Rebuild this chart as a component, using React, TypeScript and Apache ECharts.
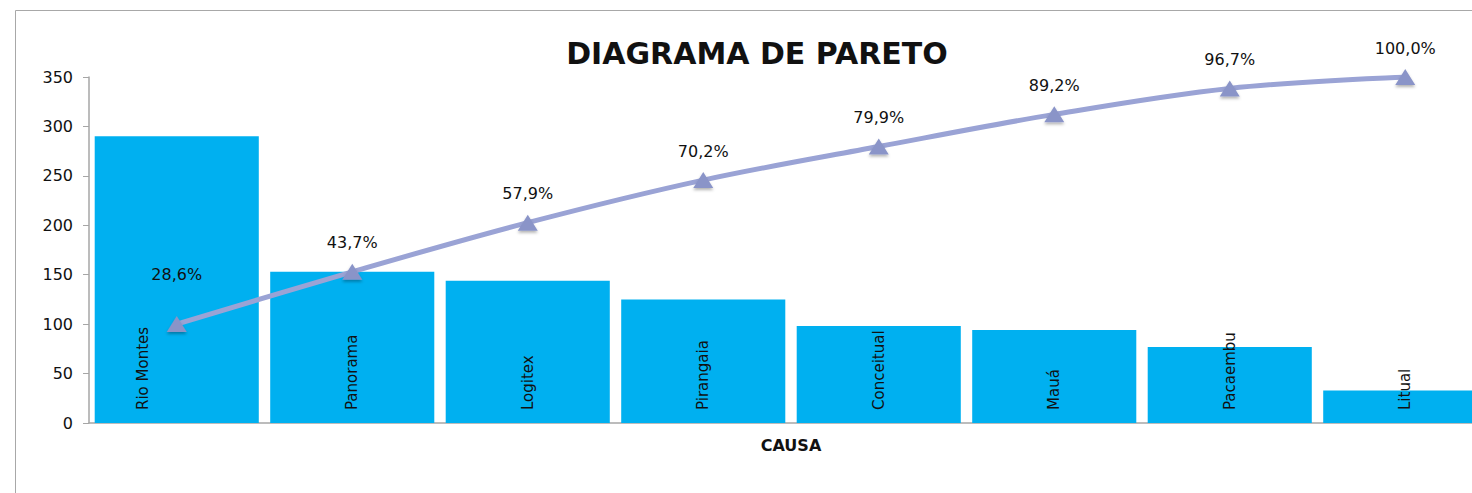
import React, { useEffect, useRef } from "react";
import * as echarts from "echarts";

const categories = ["Rio Montes", "Panorama", "Logitex", "Pirangaia", "Conceitual", "Mauá", "Pacaembu", "Litual"];
const counts = [290, 153, 144, 125, 98, 94, 77, 33];
const cumulativePct = [28.6, 43.7, 57.9, 70.2, 79.9, 89.2, 96.7, 100.0];
const yTicks = [0, 50, 100, 150, 200, 250, 300, 350];

const FONT = "DejaVu Sans";

export default function App() {
  const ref = useRef<HTMLDivElement>(null);
  useEffect(() => {
    if (!ref.current) return;
    const chart = echarts.init(ref.current, null, { renderer: "svg" });
    chart.setOption({
      animation: false,
      backgroundColor: "#ffffff",
      title: {
        text: "DIAGRAMA DE PARETO",
        left: 752,
        top: 33,
        textAlign: "center",
        textStyle: { fontFamily: FONT, fontSize: 30, fontWeight: "bold", color: "#111" },
      },
      graphic: [
        {
          type: "rect",
          shape: { x: 15.5, y: 10.5, width: 2000, height: 1000 },
          style: { fill: "none", stroke: "#a8a8a8", lineWidth: 1 },
          silent: true,
          z: 100,
        },
      ],
      grid: { left: 89, width: 1404, top: 77, height: 346, containLabel: false, outerBoundsMode: "none" },
      xAxis: {
        type: "category",
        data: categories,
        name: "CAUSA",
        nameLocation: "middle",
        nameGap: 14,
        nameTextStyle: { fontFamily: FONT, fontSize: 16, fontWeight: "bold", color: "#111" },
        axisLine: { lineStyle: { color: "#a6a6a6", width: 1.5 } },
        axisTick: { show: false },
        axisLabel: { show: false },
      },
      yAxis: [
        {
          type: "value",
          min: yTicks[0],
          max: yTicks[yTicks.length - 1],
          interval: 50,
          splitLine: { show: false },
          axisLine: { show: true, lineStyle: { color: "#a6a6a6", width: 1.5 } },
          axisTick: { show: true, length: 6, lineStyle: { color: "#a6a6a6" } },
          axisLabel: { fontFamily: FONT, fontSize: 16, color: "#111", margin: 16 },
        },
        {
          type: "value",
          min: 0,
          max: 100,
          show: false,
          splitLine: { show: false },
        },
      ],
      series: [
        {
          type: "bar",
          data: counts.map((v, i) =>
            i === 0
              ? { value: v, label: { offset: [0, -34] } }
              : { value: v }
          ),
          barCategoryGap: "6.5%",
          itemStyle: { color: "#00B0F0" },
          label: {
            show: true,
            position: "insideBottom",
            rotate: 90,
            align: "left",
            verticalAlign: "middle",
            distance: 13,
            formatter: "{b}",
            fontFamily: FONT,
            fontSize: 15,
            color: "#111",
          },
          z: 2,
        },
        {
          type: "line",
          yAxisIndex: 1,
          data: cumulativePct.map((v, i) =>
            i === 0 ? { value: v, label: { offset: [0, -21] } } : { value: v }
          ),
          smooth: 0.35,
          symbol: "triangle",
          symbolSize: [20, 16],
          lineStyle: { color: "#9AA3D5", width: 5 },
          itemStyle: {
            color: "#8A94C8",
            shadowBlur: 3,
            shadowColor: "rgba(0,0,0,0.3)",
            shadowOffsetY: 2,
          },
          label: {
            show: true,
            position: "top",
            distance: 13,
            formatter: (p: any) => p.value.toFixed(1).replace(".", ",") + "%",
            fontFamily: FONT,
            fontSize: 16,
            color: "#111",
          },
          z: 3,
        },
      ],
    });
    return () => chart.dispose();
  }, []);
  return (
    <div
      style={{ position: "absolute", left: 0, top: 0, width: 1472, height: 493, overflow: "hidden" }}
    >
      <div ref={ref} style={{ position: "absolute", left: 0, top: 0, width: 1500, height: 493 }} />
    </div>
  );
}
